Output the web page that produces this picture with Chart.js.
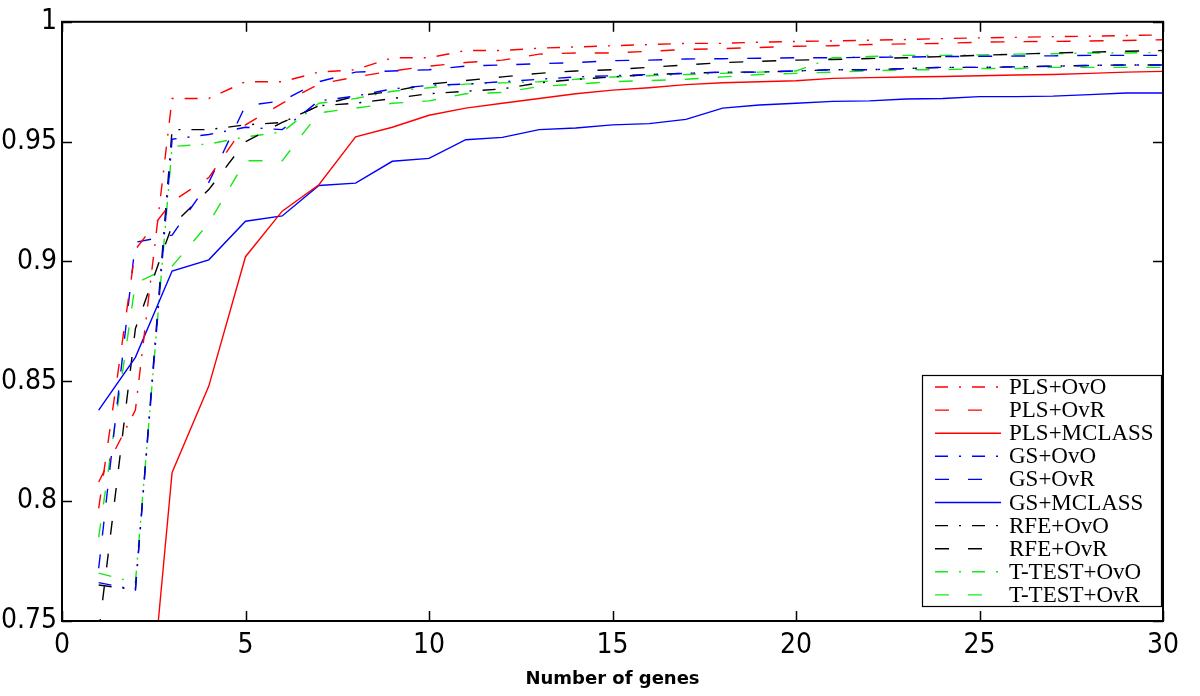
<!DOCTYPE html>
<html>
<head>
<meta charset="utf-8">
<script src="https://cdn.jsdelivr.net/npm/chart.js@4"></script>
<style>
  body { margin: 0; background: #fff; }
  #chart { display: block; }
</style>
</head>
<body>
<canvas id="chart" width="1200" height="696"></canvas>
<script>
// x values (number of genes)
var genes = [1, 2, 3, 4, 5, 6, 7, 8, 9, 10, 11, 12, 13, 14, 15, 16, 17, 18, 19, 20, 21, 22, 23, 24, 25, 26, 27, 28, 29, 30];

// accuracy per method
var plsOvO = [0.808, 0.838, 0.968, 0.968, 0.975, 0.975, 0.979, 0.980, 0.985, 0.985, 0.988, 0.988, 0.989, 0.9895, 0.990, 0.9905, 0.991, 0.991, 0.9915, 0.9918, 0.992, 0.9923, 0.9926, 0.993, 0.9933, 0.9935, 0.9938, 0.994, 0.9943, 0.9945];
var plsOvR = [0.797, 0.905, 0.925, 0.935, 0.957, 0.966, 0.974, 0.977, 0.9795, 0.9815, 0.983, 0.984, 0.9865, 0.987, 0.987, 0.9877, 0.9885, 0.9888, 0.9893, 0.9898, 0.990, 0.9905, 0.9908, 0.991, 0.9915, 0.9917, 0.9918, 0.992, 0.9922, 0.9925];
var plsMclass = [0.62, 0.647, 0.812, 0.848, 0.902, 0.921, 0.932, 0.952, 0.956, 0.961, 0.964, 0.966, 0.968, 0.970, 0.9715, 0.9725, 0.9738, 0.9746, 0.975, 0.9754, 0.9764, 0.9767, 0.977, 0.9772, 0.9775, 0.9778, 0.978, 0.9785, 0.979, 0.9793];
var gsOvO = [0.766, 0.763, 0.951, 0.953, 0.956, 0.955, 0.967, 0.969, 0.972, 0.9735, 0.974, 0.975, 0.976, 0.977, 0.9775, 0.978, 0.9785, 0.979, 0.979, 0.9795, 0.980, 0.980, 0.9805, 0.981, 0.981, 0.9812, 0.9815, 0.9818, 0.982, 0.982];
var gsOvR = [0.772, 0.908, 0.911, 0.933, 0.965, 0.967, 0.975, 0.979, 0.9795, 0.980, 0.9815, 0.982, 0.9825, 0.983, 0.9838, 0.984, 0.9845, 0.9846, 0.9848, 0.985, 0.985, 0.9852, 0.9853, 0.9855, 0.9856, 0.9857, 0.9858, 0.986, 0.986, 0.986];
var gsMclass = [0.838, 0.860, 0.896, 0.9007, 0.9168, 0.919, 0.9317, 0.9327, 0.9418, 0.943, 0.9508, 0.9518, 0.955, 0.9557, 0.957, 0.9575, 0.9593, 0.964, 0.9653, 0.966, 0.9668, 0.967, 0.9678, 0.968, 0.9688, 0.9688, 0.969, 0.9696, 0.9703, 0.9703];
var rfeOvO = [0.765, 0.763, 0.955, 0.955, 0.957, 0.958, 0.965, 0.966, 0.968, 0.970, 0.971, 0.972, 0.9745, 0.976, 0.977, 0.978, 0.9785, 0.979, 0.979, 0.9795, 0.980, 0.980, 0.9805, 0.981, 0.981, 0.9812, 0.9815, 0.9818, 0.982, 0.982];
var rfeOvR = [0.745, 0.872, 0.915, 0.930, 0.950, 0.958, 0.965, 0.969, 0.971, 0.974, 0.9755, 0.977, 0.9785, 0.9795, 0.980, 0.981, 0.982, 0.983, 0.9835, 0.984, 0.9843, 0.9847, 0.985, 0.9855, 0.986, 0.9865, 0.987, 0.9873, 0.9877, 0.988];
var ttestOvO = [0.770, 0.766, 0.948, 0.949, 0.952, 0.954, 0.966, 0.968, 0.971, 0.9725, 0.974, 0.9745, 0.975, 0.976, 0.977, 0.9775, 0.978, 0.9785, 0.979, 0.9795, 0.985, 0.9855, 0.986, 0.986, 0.9862, 0.9865, 0.9867, 0.987, 0.987, 0.9872];
var ttestOvR = [0.785, 0.891, 0.898, 0.916, 0.942, 0.942, 0.962, 0.964, 0.966, 0.967, 0.970, 0.9705, 0.973, 0.974, 0.975, 0.9755, 0.976, 0.977, 0.978, 0.9785, 0.979, 0.9795, 0.980, 0.980, 0.9805, 0.9805, 0.981, 0.981, 0.981, 0.981];

var xTicks = [0, 5, 10, 15, 20, 25, 30];
var yTicks = [0.75, 0.8, 0.85, 0.9, 0.95, 1];
var yTickLabels = ['0.75', '0.8', '0.85', '0.9', '0.95', '1'];

var RED = '#ff0000', BLUE = '#0000ff', BLACK = '#000000', GREEN = '#14ea14';
var DASHDOT = [13, 11, 2, 11];
var DASHED = [14, 19];

function series(label, values, color, dash) {
    return {
        label: label,
        data: genes.map(function (g, i) { return { x: g, y: values[i] }; }),
        borderColor: color,
        backgroundColor: color,
        borderWidth: 1.4,
        borderDash: dash,
        pointRadius: 0,
        tension: 0,
        fill: false,
        clip: 0
    };
}

// frame, inward tick marks and the boxed legend in the lower right
var frameAndLegend = {
    id: 'frameAndLegend',
    afterDraw: function (chart) {
        var ctx = chart.ctx, a = chart.chartArea;
        var sx = chart.scales.x, sy = chart.scales.y;
        ctx.save();
        ctx.strokeStyle = '#000';
        ctx.setLineDash([]);
        ctx.lineWidth = 1.5;
        ctx.beginPath();
        xTicks.forEach(function (v) {
            var px = Math.round(sx.getPixelForValue(v)) + 0.5;
            ctx.moveTo(px, a.bottom); ctx.lineTo(px, a.bottom - 10);
            ctx.moveTo(px, a.top); ctx.lineTo(px, a.top + 10);
        });
        yTicks.forEach(function (v) {
            var py = Math.round(sy.getPixelForValue(v)) + 0.5;
            ctx.moveTo(a.left, py); ctx.lineTo(a.left + 10, py);
            ctx.moveTo(a.right, py); ctx.lineTo(a.right - 10, py);
        });
        ctx.stroke();
        ctx.lineWidth = 2;
        ctx.strokeRect(a.left, a.top, a.right - a.left, a.bottom - a.top);

        // legend box
        var bx = 922, by = 375, bw = 239, bh = 231;
        ctx.fillStyle = '#fff';
        ctx.fillRect(bx, by, bw, bh);
        ctx.lineWidth = 1.2;
        ctx.strokeRect(bx + 0.5, by + 0.5, bw, bh);
        ctx.font = '23px "Liberation Serif", "DejaVu Serif", serif';
        ctx.textBaseline = 'middle';
        ctx.textAlign = 'left';
        chart.data.datasets.forEach(function (ds, i) {
            var yy = by + 12 + i * 23.1;
            ctx.strokeStyle = ds.borderColor;
            ctx.lineWidth = 1.4;
            ctx.setLineDash(ds.borderDash || []);
            ctx.beginPath();
            ctx.moveTo(bx + 13, yy);
            ctx.lineTo(bx + 79, yy);
            ctx.stroke();
            ctx.setLineDash([]);
            ctx.fillStyle = '#000';
            ctx.fillText(ds.label, bx + 87, yy + 1);
        });
        ctx.restore();
    }
};

var tickFont = { family: '"Liberation Sans Narrow", "DejaVu Sans Condensed", "Liberation Sans", sans-serif', size: 28 };

var ctx1 = document.getElementById('chart').getContext('2d');
var accChart = new Chart(ctx1, {
    type: 'line',
    data: {
        datasets: [
            series('PLS+OvO', plsOvO, RED, DASHDOT),
            series('PLS+OvR', plsOvR, RED, DASHED),
            series('PLS+MCLASS', plsMclass, RED, []),
            series('GS+OvO', gsOvO, BLUE, DASHDOT),
            series('GS+OvR', gsOvR, BLUE, DASHED),
            series('GS+MCLASS', gsMclass, BLUE, []),
            series('RFE+OvO', rfeOvO, BLACK, DASHDOT),
            series('RFE+OvR', rfeOvR, BLACK, DASHED),
            series('T-TEST+OvO', ttestOvO, GREEN, DASHDOT),
            series('T-TEST+OvR', ttestOvR, GREEN, DASHED)
        ]
    },
    options: {
        responsive: false,
        animation: false,
        devicePixelRatio: 1,
        layout: { padding: { top: 21, right: 37, left: 0, bottom: 0 } },
        plugins: {
            legend: { display: false },
            tooltip: { enabled: false }
        },
        scales: {
            x: {
                type: 'linear',
                min: 0,
                max: 30,
                afterBuildTicks: function (s) { s.ticks = xTicks.map(function (v) { return { value: v }; }); },
                afterFit: function (s) { s.height = 75; },
                grid: { display: false, drawTicks: false },
                border: { display: false },
                ticks: { color: '#000', font: tickFont, padding: 8, maxRotation: 0 },
                title: {
                    display: true,
                    text: 'Number of genes',
                    color: '#000',
                    font: { family: '"DejaVu Sans", sans-serif', size: 18, weight: 'bold' },
                    padding: { top: 0, bottom: 6 }
                }
            },
            y: {
                min: 0.75,
                max: 1,
                afterBuildTicks: function (s) { s.ticks = yTicks.map(function (v) { return { value: v }; }); },
                afterFit: function (s) { s.width = 62; },
                grid: { display: false, drawTicks: false },
                border: { display: false },
                ticks: {
                    color: '#000',
                    font: tickFont,
                    padding: 5,
                    callback: function (v) { var k = yTicks.indexOf(v); return k >= 0 ? yTickLabels[k] : ''; }
                }
            }
        }
    },
    plugins: [frameAndLegend]
});
</script>
</body>
</html>
